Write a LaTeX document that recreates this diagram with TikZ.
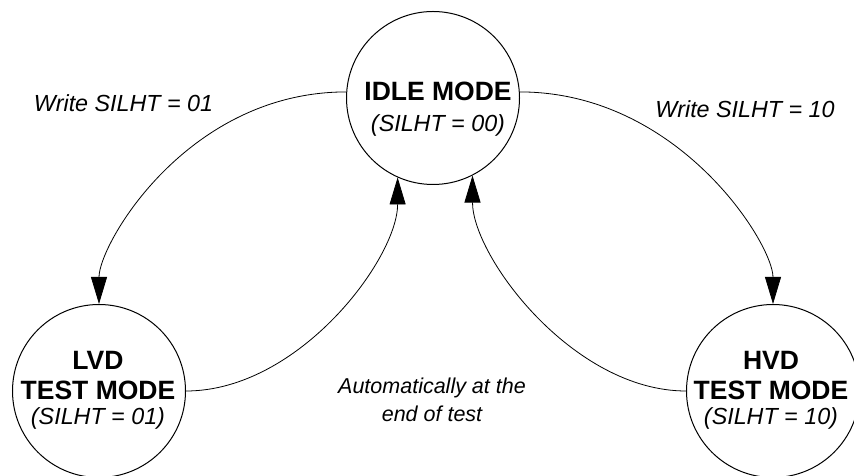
\documentclass[tikz,border=0pt]{standalone}
\usepackage{fontspec}
\setmainfont{Liberation Sans}
\usetikzlibrary{arrows.meta}

\newcommand{\silht}[1]{{\fontsize{23.3}{26}\selectfont\mdseries\itshape (SILHT = #1)}}

\begin{document}
\begin{tikzpicture}[x=1pt, y=1pt,
    modestate/.style={circle, draw, line width=1pt, minimum size=173pt, inner sep=0pt},
    modetext/.style={align=center, font=\fontsize{26.5}{30}\selectfont\bfseries},
    translabel/.style={align=center, font=\fontsize{23.3}{28}\selectfont\itshape},
    transarrow/.style={line width=0.8pt, -{Triangle[length=27pt, width=16pt]}}]
    \useasboundingbox (0,0) rectangle (854,476);

    % States
    \node[modestate] (idle) at (433,378) {};
    \node[modestate] (lvd) at (99,85) {};
    \node[modestate] (hvd) at (773,85) {};
    \node[modetext] (idletext) at (438,367) {IDLE MODE\\[1pt]\silht{00}};
    \node[modetext] (lvdtext) at (98,86) {LVD\\TEST MODE\\[-5pt]\silht{01}};
    \node[modetext] (hvdtext) at (771,86) {HVD\\TEST MODE\\[-5pt]\silht{10}};

    % Transitions
    \draw[transarrow] (idle.176) to[out=180, in=90, out distance=159pt, in distance=60pt] (lvd.north);
    \draw[transarrow] (idle.4) to[out=0, in=90, out distance=159pt, in distance=60pt] (hvd.north);
    \draw[transarrow] (lvd.east) to[out=0, in=270, out distance=113pt, in distance=81pt] (idle.246);
    \draw[transarrow] (hvd.west) to[out=180, in=270, out distance=113pt, in distance=81pt] (idle.297);

    % Labels
    \node[translabel, anchor=base] (write01) at (123.5,364) {Write SILHT = 01};
    \node[translabel, anchor=base] (write10) at (745,358) {Write SILHT = 10};
    \node[translabel, font=\fontsize{21.5}{28}\selectfont\itshape] (autoback) at (432,76) {Automatically at the\\end of test};
\end{tikzpicture}
\end{document}
